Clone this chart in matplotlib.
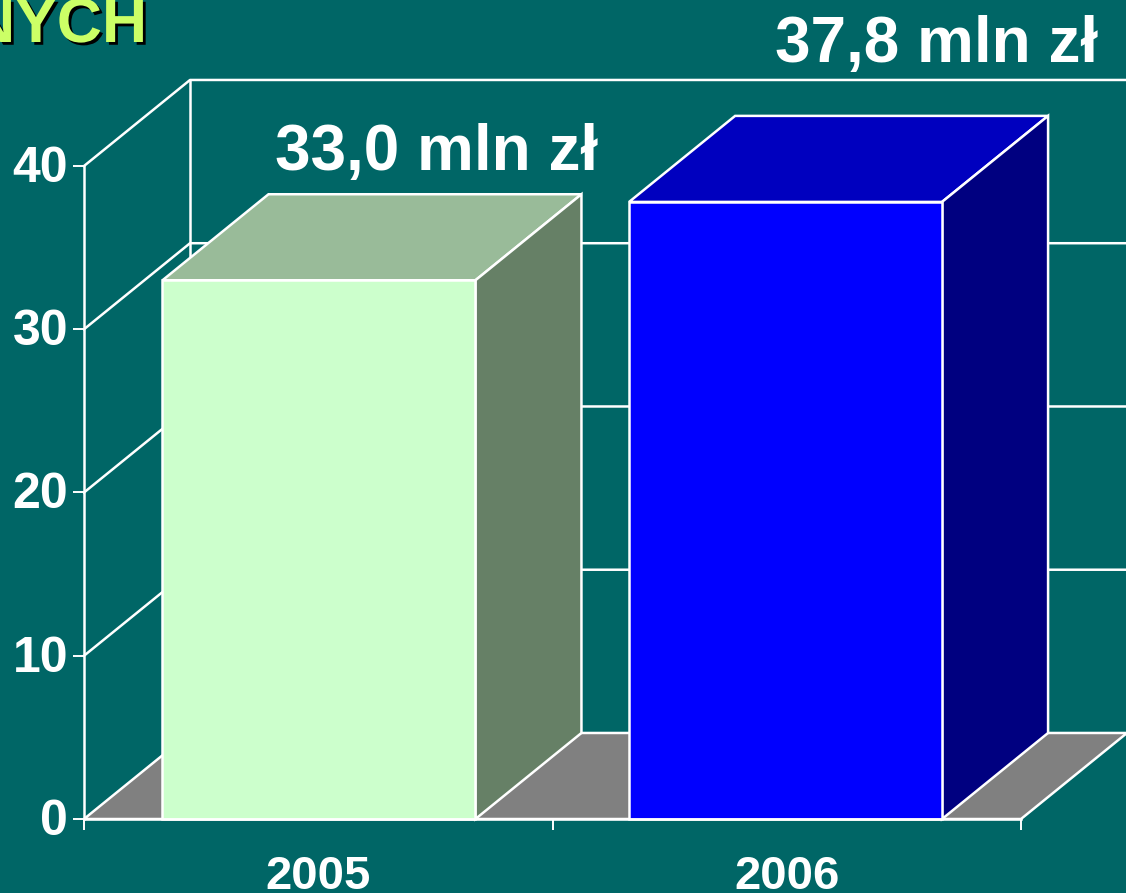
import matplotlib
matplotlib.use('Agg')
import matplotlib.pyplot as plt
import matplotlib.patheffects as pe
from matplotlib.patches import Polygon
from matplotlib.transforms import ScaledTranslation

plt.rcParams['font.family'] = ['Liberation Sans', 'DejaVu Sans']

years = ['2005', '2006']
values = [33.0, 37.8]
value_labels = ['33,0 mln zł', '37,8 mln zł']
y_ticks = [0, 10, 20, 30, 40]
front_colors = ['#CCFFCC', '#0000FF']
top_colors = ['#99BB99', '#0000BF']
side_colors = ['#668066', '#000080']

bg = '#006666'
white = '#FFFFFF'
lw = 1.8

# 3d look: depth of the box in data units
dx = 0.2263
dy = 5.27
bar_w = 0.668
bar_pos = [0.5015, 1.4975]
label_pos = [(0.753, 39.75), (1.82, 46.35)]

fig = plt.figure(figsize=(11.26, 8.93), dpi=100, facecolor=bg)
ax = fig.add_axes([84 / 1126, (893 - 819) / 893, 937 / 1126, 653 / 893], facecolor='none')
ax.set_xlim(0, 2)
ax.set_ylim(0, 40)

# floor
ax.add_patch(Polygon([(0, 0), (2, 0), (2 + dx, dy), (dx, dy)], closed=True, fc='#808080',
                     ec=white, lw=lw, clip_on=False, zorder=1))

# walls: grid lines go along the side wall and then along the back wall
for t in y_ticks[1:]:
    ax.plot([0, dx, 2 + dx], [t, t + dy, t + dy], color=white, lw=lw, clip_on=False, zorder=1)
ax.plot([dx, dx], [dy, 40 + dy], color=white, lw=lw, clip_on=False, zorder=1)

# bars
for i, v in enumerate(values):
    x0 = bar_pos[i] - bar_w / 2
    x1 = x0 + bar_w
    ax.bar(bar_pos[i], v, width=bar_w, color=front_colors[i], edgecolor=white, linewidth=lw,
           zorder=3, clip_on=False)
    ax.add_patch(Polygon([(x0, v), (x1, v), (x1 + dx, v + dy), (x0 + dx, v + dy)], closed=True,
                         fc=top_colors[i], ec=white, lw=lw, clip_on=False, zorder=2))
    ax.add_patch(Polygon([(x1, 0), (x1 + dx, dy), (x1 + dx, v + dy), (x1, v)], closed=True,
                         fc=side_colors[i], ec=white, lw=lw, clip_on=False, zorder=2))
    ax.text(label_pos[i][0], label_pos[i][1], value_labels[i], color=white, fontsize=46,
            fontweight='bold', ha='center', va='baseline', clip_on=False, zorder=4)

for s in ['top', 'right']:
    ax.spines[s].set_visible(False)
for s in ['left', 'bottom']:
    ax.spines[s].set_color(white)
    ax.spines[s].set_linewidth(lw)
    ax.spines[s].set_zorder(5)

ax.set_yticks(y_ticks)
ax.set_xticks([0, 1, 2])
ax.set_xticklabels([])
ax.set_xticks([0.5, 1.5], minor=True)
ax.set_xticklabels(years, minor=True)
ax.tick_params(axis='both', which='major', color=white, length=8, width=1.4)
ax.tick_params(axis='x', which='minor', length=0, pad=26, labelcolor=white, labelsize=34)
ax.tick_params(axis='y', labelcolor=white, labelsize=36, pad=3.5)
for lab in ax.get_xticklabels(minor=True):
    lab.set_fontweight('bold')
nudge = ScaledTranslation(0, 2 / 100, fig.dpi_scale_trans)
for lab in ax.get_yticklabels():
    lab.set_fontweight('bold')
    lab.set_transform(lab.get_transform() + nudge)

# what is left of the slide title, cut by the top edge
fig.text(147 / 1126, 1 - 42 / 893, 'NYCH', color='#CCFF66', fontsize=45, fontweight='bold',
         ha='right', va='baseline',
         path_effects=[pe.withSimplePatchShadow(offset=(2, -2), shadow_rgbFace='#000000', alpha=1)])

fig.savefig('out.png', dpi=100, facecolor=bg)
